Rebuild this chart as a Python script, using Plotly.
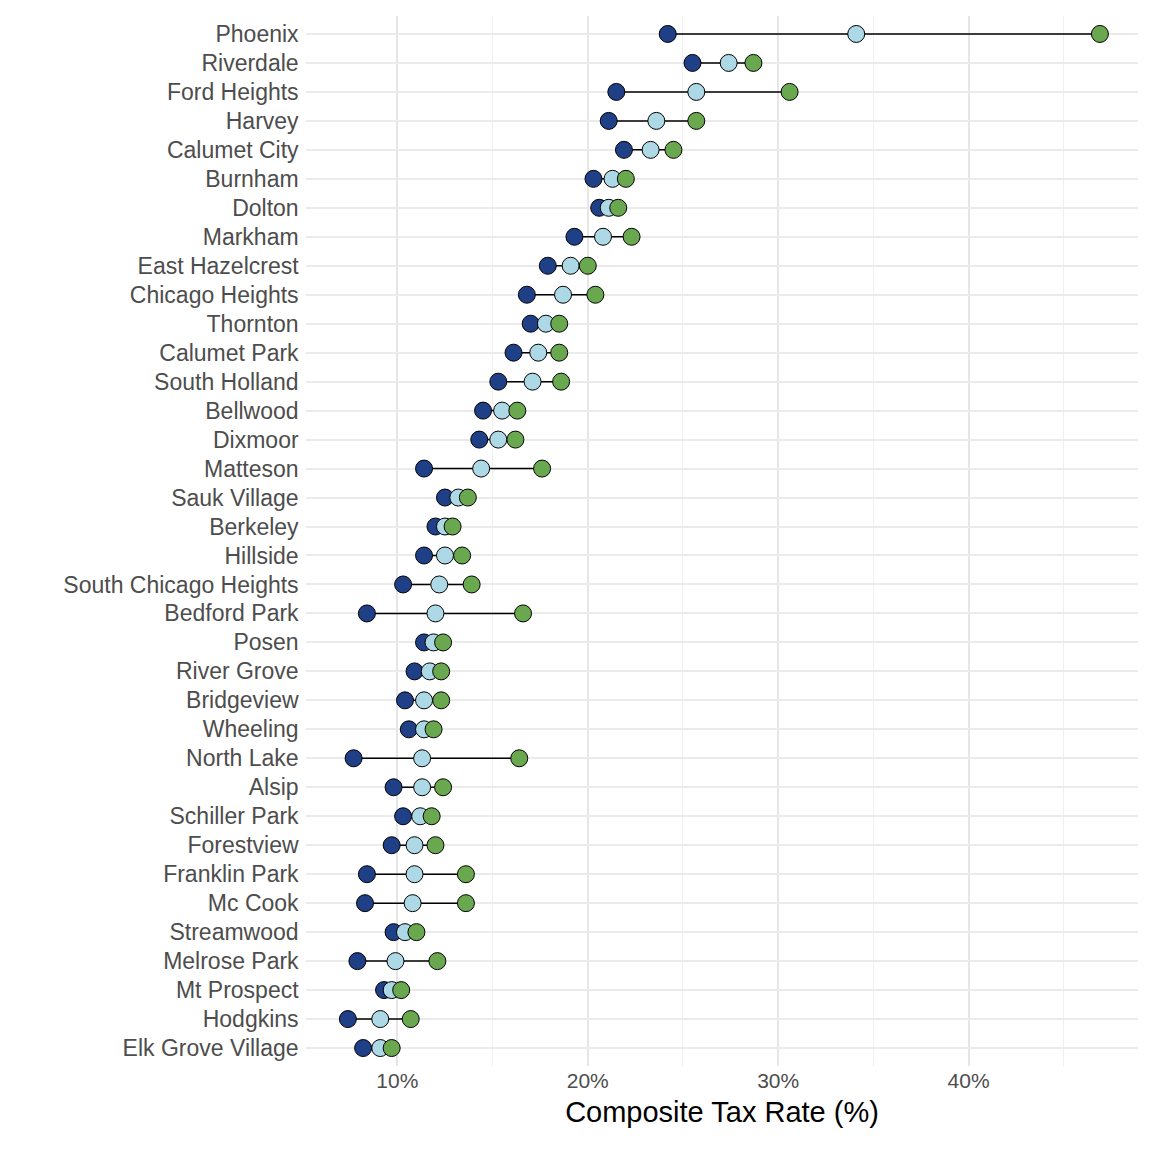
import plotly.graph_objects as go

towns = ["Phoenix", "Riverdale", "Ford Heights", "Harvey", "Calumet City", "Burnham", "Dolton",
         "Markham", "East Hazelcrest", "Chicago Heights", "Thornton", "Calumet Park", "South Holland",
         "Bellwood", "Dixmoor", "Matteson", "Sauk Village", "Berkeley", "Hillside",
         "South Chicago Heights", "Bedford Park", "Posen", "River Grove", "Bridgeview", "Wheeling",
         "North Lake", "Alsip", "Schiller Park", "Forestview", "Franklin Park", "Mc Cook",
         "Streamwood", "Melrose Park", "Mt Prospect", "Hodgkins", "Elk Grove Village"]
low = [24.2, 25.5, 21.5, 21.1, 21.9, 20.3, 20.6, 19.3, 17.9, 16.8, 17.0, 16.1, 15.3, 14.5, 14.3,
       11.4, 12.5, 12.0, 11.4, 10.3, 8.4, 11.4, 10.9, 10.4, 10.6, 7.7, 9.8, 10.3, 9.7, 8.4, 8.3,
       9.8, 7.9, 9.3, 7.4, 8.2]
mid = [34.1, 27.4, 25.7, 23.6, 23.3, 21.3, 21.1, 20.8, 19.1, 18.7, 17.8, 17.4, 17.1, 15.5, 15.3,
       14.4, 13.2, 12.5, 12.5, 12.2, 12.0, 11.9, 11.7, 11.4, 11.4, 11.3, 11.3, 11.2, 10.9, 10.9,
       10.8, 10.4, 9.9, 9.7, 9.1, 9.1]
high = [46.9, 28.7, 30.6, 25.7, 24.5, 22.0, 21.6, 22.3, 20.0, 20.4, 18.5, 18.5, 18.6, 16.3, 16.2,
        17.6, 13.7, 12.9, 13.4, 13.9, 16.6, 12.4, 12.3, 12.3, 11.9, 16.4, 12.4, 11.8, 12.0, 13.6,
        13.6, 11.0, 12.1, 10.2, 10.7, 9.7]
tick_vals = [10, 20, 30, 40]
tick_text = ["10%", "20%", "30%", "40%"]

seg_x, seg_y = [], []
for t, a, b in zip(towns, low, high):
    seg_x += [a, b, None]
    seg_y += [t, t, None]

fig = go.Figure()
fig.add_trace(go.Scatter(x=seg_x, y=seg_y, mode='lines', line=dict(color='black', width=1.5)))
for vals, col in [(low, '#1f3f86'), (mid, '#add8e6'), (high, '#6aa84f')]:
    fig.add_trace(go.Scatter(x=vals, y=towns, mode='markers',
                             marker=dict(size=17, color=col, line=dict(color='black', width=1))))

fig.update_layout(
    width=1152, height=1152, showlegend=False,
    plot_bgcolor='white', paper_bgcolor='white',
    margin=dict(l=298, r=22, t=8, b=94),
    font=dict(family='Arial, Liberation Sans', size=21, color='#4d4d4d'),
    xaxis=dict(range=[5.2, 48.9], tickvals=tick_vals, ticktext=tick_text,
               showgrid=True, gridcolor='#e6e6e6', gridwidth=1.5, zeroline=False,
               minor=dict(dtick=5, tick0=0, showgrid=True, gridcolor='#f0f0f0', gridwidth=1),
               title=dict(text='Composite Tax Rate (%)', font=dict(size=29, color='black'), standoff=10),
               tickfont=dict(size=21)),
    yaxis=dict(categoryorder='array', categoryarray=towns, range=[35.62, -0.62],
               showgrid=True, gridcolor='#ebebeb', gridwidth=1.5, ticksuffix=' ',
               tickfont=dict(size=23)),
)
fig.write_html("out.html")
